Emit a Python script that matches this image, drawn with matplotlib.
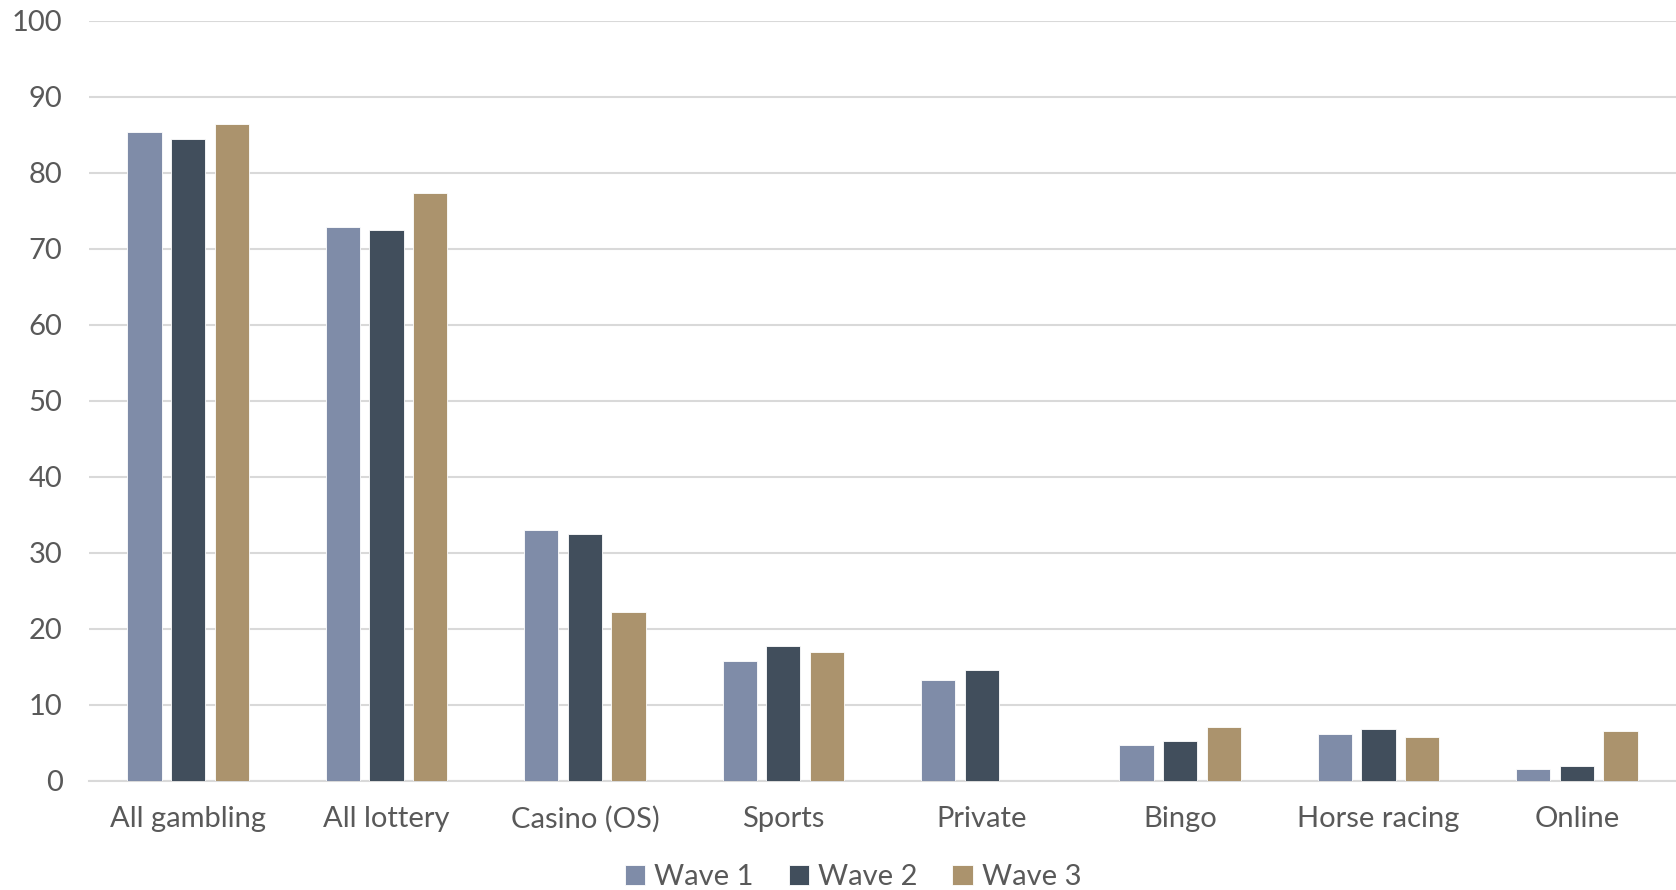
import numpy as np
import matplotlib
matplotlib.use('Agg')
import matplotlib.pyplot as plt

categories = ['All gambling', 'All lottery', 'Casino (OS)', 'Sports', 'Private', 'Bingo', 'Horse racing', 'Online']
wave1 = [85.3, 72.9, 33.0, 15.8, 13.2, 4.7, 6.2, 1.5]
wave2 = [84.5, 72.5, 32.4, 17.7, 14.6, 5.2, 6.8, 1.9]
wave3 = [86.4, 77.3, 22.2, 16.9, np.nan, 7.1, 5.7, 6.6]
series_names = ['Wave 1', 'Wave 2', 'Wave 3']
colors = ['#7F8CA8', '#414E5C', '#AB936D']

plt.rcParams['font.family'] = ['Lato', 'DejaVu Sans']

fig = plt.figure(figsize=(16.76, 8.9), dpi=100)
ax = fig.add_axes([89 / 1676, 1 - 780.7 / 890, 1 - 89 / 1676, (780.7 - 20.7) / 890])

x = np.arange(len(categories))
width = 0.173
step = 0.22
for i, (vals, name, c) in enumerate(zip([wave1, wave2, wave3], series_names, colors)):
    ax.bar(x + (i - 1) * step, vals, width, color=c, label=name, edgecolor='white', linewidth=0.6, zorder=3)

ax.set_xlim(-0.5, len(categories) - 0.5)
ax.set_ylim(0, 100)
ax.set_yticks(range(0, 101, 10))
ax.set_xticks(x)
ax.set_xticklabels(categories)
ax.yaxis.grid(True, color='#D9D9D9', linewidth=1.5, zorder=0)
ax.set_axisbelow(True)
for s in ['top', 'right', 'left']:
    ax.spines[s].set_visible(False)
ax.spines['bottom'].set_color('#D9D9D9')
ax.spines['bottom'].set_linewidth(1.5)
ax.tick_params(axis='y', length=0, pad=19, labelsize=21, labelcolor='#595959')
ax.tick_params(axis='x', length=0, pad=18, labelsize=21, labelcolor='#595959')

fig.legend(loc='center', bbox_to_anchor=(853 / 1676, 1 - 877 / 890), ncol=3, frameon=False,
           fontsize=21, labelcolor='#595959', handlelength=0.7, handleheight=0.7,
           handletextpad=0.3, columnspacing=1.2)

fig.savefig('out.png', dpi=100)
